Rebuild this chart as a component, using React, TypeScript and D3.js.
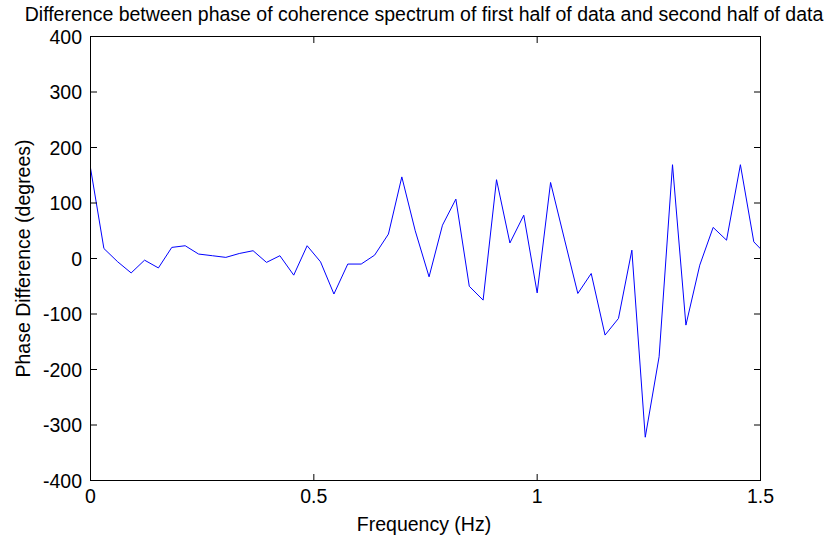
import React from "react";
import * as d3 from "d3";

const frequencies = [
  0, 0.030, 0.061, 0.091, 0.121, 0.152, 0.182, 0.212, 0.242, 0.273,
  0.303, 0.333, 0.364, 0.394, 0.424, 0.455, 0.485, 0.515, 0.545, 0.576,
  0.606, 0.636, 0.667, 0.697, 0.727, 0.758, 0.788, 0.818, 0.848, 0.879,
  0.909, 0.939, 0.970, 1.000, 1.030, 1.061, 1.091, 1.121, 1.152, 1.182,
  1.212, 1.242, 1.273, 1.303, 1.333, 1.364, 1.394, 1.424, 1.455, 1.485,
  1.515,
];

const phaseDiff = [
  163, 18, -6, -26, -3, -17, 20, 23, 8, 5,
  2, 9, 14, -7, 5, -30, 23, -6, -64, -10,
  -10, 6, 44, 147, 50, -33, 60, 107, -50, -75,
  142, 28, 78, -62, 137, 35, -63, -27, -138, -108,
  15, -322, -177, 169, -120, -12, 56, 33, 169, 30,
  5,
];

const xTicks = [0, 0.5, 1, 1.5];
const xTickLabels = ["0", "0.5", "1", "1.5"];
const yTicks = [-400, -300, -200, -100, 0, 100, 200, 300, 400];
const yTickLabels = ["-400", "-300", "-200", "-100", "0", "100", "200", "300", "400"];

const titleText =
  "Difference between phase of coherence spectrum of first half of data and second half of data";
const xLabelText = "Frequency (Hz)";
const yLabelText = "Phase Difference (degrees)";

export default function App() {
  const W = 838;
  const H = 539;
  const left = 90.5;
  const right = 760.5;
  const top = 36.5;
  const bottom = 480.5;
  const font = "'Liberation Sans', Arial, Helvetica, sans-serif";
  const fs = 19.5;
  const tickLen = 6.5;

  const x = d3.scaleLinear().domain([0, 1.5]).range([left, right]);
  const y = d3.scaleLinear().domain([-400, 400]).range([bottom, top]);

  const pts: [number, number][] = frequencies.map((f, i) => [f, phaseDiff[i]]);
  const line = d3
    .line<[number, number]>()
    .x((d) => x(d[0]))
    .y((d) => y(d[1]));

  return (
    <svg
      width={W}
      height={H}
      style={{ position: "fixed", left: 0, top: 0, background: "#fff" }}
      fontFamily={font}
    >
      <rect x={0} y={0} width={W} height={H} fill="#fff" />
      <defs>
        <clipPath id="plotClip">
          <rect x={left} y={top} width={right - left} height={bottom - top} />
        </clipPath>
      </defs>

      <path
        d={line(pts) || ""}
        fill="none"
        stroke="#0000ff"
        strokeWidth={1}
        clipPath="url(#plotClip)"
      />

      <rect
        x={left}
        y={top}
        width={right - left}
        height={bottom - top}
        fill="none"
        stroke="#000"
        strokeWidth={1}
      />

      {xTicks.map((t, i) => (
        <g key={"xt" + i}>
          <line x1={x(t)} x2={x(t)} y1={bottom} y2={bottom - tickLen} stroke="#000" />
          <line x1={x(t)} x2={x(t)} y1={top} y2={top + tickLen} stroke="#000" />
          <text
            x={x(t)}
            y={503}
            textAnchor="middle"
            fontSize={fs}
            fill="#000"
          >
            {xTickLabels[i]}
          </text>
        </g>
      ))}

      {yTicks.map((t, i) => (
        <g key={"yt" + i}>
          <line x1={left} x2={left + tickLen} y1={y(t)} y2={y(t)} stroke="#000" />
          <line x1={right} x2={right - tickLen} y1={y(t)} y2={y(t)} stroke="#000" />
          <text
            x={82}
            y={y(t)}
            dy="0.36em"
            textAnchor="end"
            fontSize={fs}
            fill="#000"
          >
            {yTickLabels[i]}
          </text>
        </g>
      ))}

      <text x={424} y={21} textAnchor="middle" fontSize={fs} fill="#000">
        {titleText}
      </text>

      <text x={424} y={531} textAnchor="middle" fontSize={fs} fill="#000">
        {xLabelText}
      </text>

      <text
        transform={`translate(30, ${(top + bottom) / 2}) rotate(-90)`}
        textAnchor="middle"
        fontSize={fs}
        fill="#000"
      >
        {yLabelText}
      </text>
    </svg>
  );
}
